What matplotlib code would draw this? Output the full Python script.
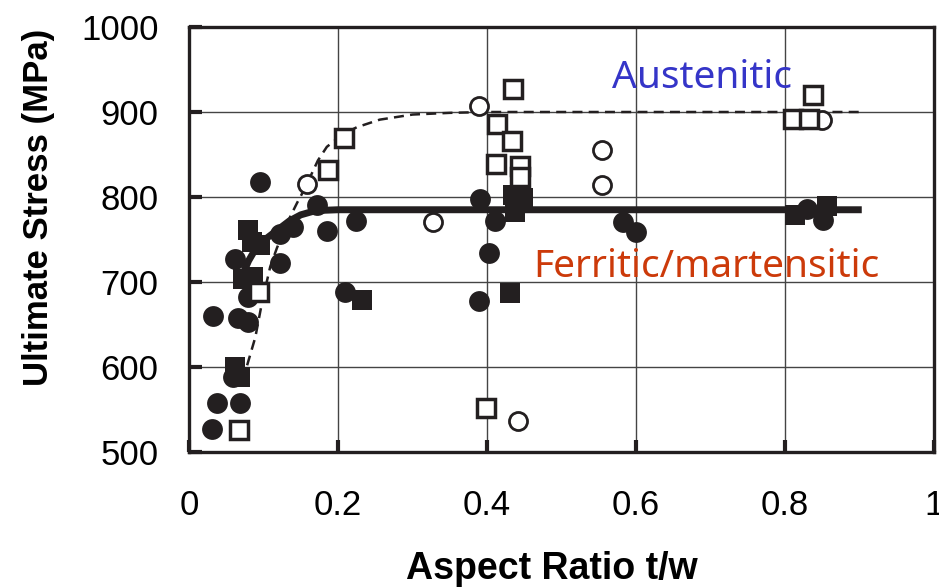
import numpy as np
import matplotlib
matplotlib.use("Agg")
import matplotlib.pyplot as plt

# ferritic / martensitic (filled)
fm_circ_x = [0.095, 0.172, 0.185, 0.224, 0.140, 0.122, 0.062, 0.122, 0.079, 0.209,
             0.032, 0.066, 0.079, 0.059, 0.038, 0.068, 0.031,
             0.391, 0.411, 0.403, 0.389, 0.583, 0.600, 0.851, 0.829]
fm_circ_y = [818, 791, 760, 772, 765, 757, 727, 722, 682, 688,
             660, 658, 653, 588, 558, 558, 527,
             798, 772, 734, 678, 771, 759, 773, 786]
fm_sq_x = [0.079, 0.085, 0.095, 0.073, 0.086, 0.232, 0.062, 0.068,
           0.435, 0.448, 0.437, 0.431, 0.813, 0.856]
fm_sq_y = [761, 747, 744, 703, 706, 679, 600, 588,
           802, 799, 782, 687, 779, 789]

# austenitic (open)
au_circ_x = [0.158, 0.389, 0.328, 0.442, 0.554, 0.554, 0.850]
au_circ_y = [815, 907, 771, 536, 855, 814, 890]
au_sq_x = [0.187, 0.208, 0.094, 0.067, 0.435, 0.413, 0.434, 0.412, 0.444, 0.444,
           0.399, 0.811, 0.832, 0.838]
au_sq_y = [832, 869, 688, 526, 927, 886, 866, 839, 836, 824,
           552, 892, 892, 920]

# trend curves
fm_line_x = [0.07, 0.08, 0.09, 0.105, 0.12, 0.135, 0.15, 0.17, 0.2, 0.903]
fm_line_y = [705, 725, 740, 752, 762, 772, 779, 784, 785, 785]
au_line_x = [0.078, 0.089, 0.098, 0.109, 0.118, 0.132, 0.145, 0.153, 0.165, 0.173,
             0.185, 0.205, 0.225, 0.256, 0.30, 0.35, 0.40, 0.905]
au_line_y = [602, 635, 676, 718, 740, 770, 793, 806, 828, 843,
             859, 873, 882, 891, 897, 899, 900, 900]

dark = '#231f20'

fig = plt.figure(figsize=(9.39, 5.87), dpi=100)
ax = fig.add_axes([0.2013, 0.230, 0.7934, 0.724])

ax.plot(au_line_x, au_line_y, color=dark, lw=1.8, ls=(0, (4, 2.5)), zorder=2)
ax.plot(fm_line_x, fm_line_y, color=dark, lw=5, solid_capstyle='butt', zorder=2)

ax.plot(fm_circ_x, fm_circ_y, 'o', ms=15, mfc=dark, mec=dark, mew=0, ls='none', zorder=3)
ax.plot(fm_sq_x, fm_sq_y, 's', ms=14.5, mfc=dark, mec=dark, mew=0, ls='none', zorder=3)
ax.plot(au_circ_x, au_circ_y, 'o', ms=13, mfc='white', mec=dark, mew=2.0, ls='none', zorder=4)
ax.plot(au_sq_x, au_sq_y, 's', ms=13.5, mfc='white', mec=dark, mew=2.5, ls='none', zorder=4)

ax.text(0.568, 928, 'Austenitic', color='#3535c8', fontsize=28, family='Noto Sans', va='baseline')
ax.text(0.462, 706, 'Ferritic/martensitic', color='#cc3a0a', fontsize=28, family='Noto Sans', va='baseline')

ax.set_xlim(0, 1)
ax.set_ylim(500, 1000)
ax.set_xticks([0, 0.2, 0.4, 0.6, 0.8, 1])
ax.set_xticklabels(['0', '0.2', '0.4', '0.6', '0.8', '1'])
ax.set_yticks([500, 600, 700, 800, 900, 1000])
ax.grid(True, color='#444444', lw=1)
ax.set_axisbelow(True)
for s in ax.spines.values():
    s.set_linewidth(2.4)
    s.set_color(dark)
ax.tick_params(axis='both', direction='in', length=9, width=3, color=dark)
ax.tick_params(axis='y', pad=22, labelsize=25)
ax.tick_params(axis='x', pad=27, labelsize=25)
for t in ax.get_yticklabels():
    t.set_family('Liberation Sans')
for t in ax.get_xticklabels():
    t.set_family(['Liberation Sans Narrow', 'Liberation Sans'])

ax.set_ylabel('Ultimate Stress (MPa)', fontsize=25, fontweight='bold', family='Liberation Sans')
ax.yaxis.set_label_coords(-0.18, 0.576)
ax.set_xlabel('Aspect Ratio t/w', fontsize=27, fontweight='bold', family='Liberation Sans')
ax.xaxis.set_label_coords(0.487, -0.232)

fig.savefig('out.png', dpi=100)
